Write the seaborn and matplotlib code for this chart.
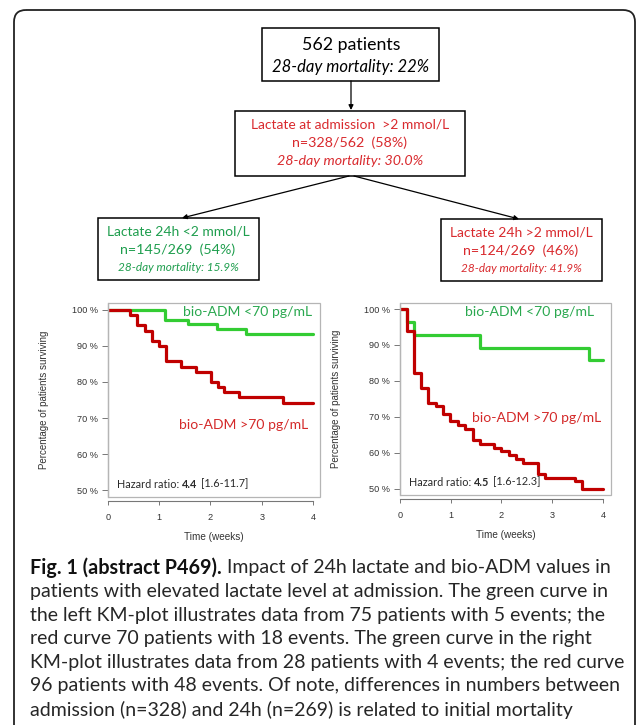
import matplotlib
matplotlib.use("Agg")
import matplotlib.pyplot as plt
from matplotlib.patches import Rectangle, FancyBboxPatch
import seaborn as sns

# Kaplan-Meier curves: time (weeks), survival (%)
left_green_t = [0, 1.12, 1.56, 2.13, 2.70, 4.0]
left_green_s = [100, 97.33, 96.0, 94.67, 93.33, 93.33]
left_red_t = [0, 0.42, 0.56, 0.72, 0.86, 0.99, 1.14, 1.43, 1.71, 2.01, 2.14, 2.27, 2.56, 3.42, 4.0]
left_red_s = [100, 98.57, 95.71, 94.29, 91.43, 90.0, 85.71, 84.29, 82.86, 80.0, 78.57, 77.14, 75.71,
              74.29, 74.29]

right_green_t = [0, 0.13, 0.28, 1.57, 3.72, 4.0]
right_green_s = [100, 96.43, 92.86, 89.29, 85.71, 85.71]
right_red_t = [0, 0.13, 0.28, 0.42, 0.56, 0.71, 0.85, 0.98, 1.15, 1.29, 1.43, 1.57, 1.85, 2.0, 2.14,
               2.28, 2.42, 2.72, 2.85, 3.46, 3.58, 4.0]
right_red_s = [100, 93.75, 82.29, 78.13, 73.96, 72.92, 70.83, 68.75, 67.71, 66.67, 63.54, 62.5, 61.46,
               60.42, 59.38, 58.33, 57.29, 54.17, 53.13, 52.08, 50.0, 50.0]

y_ticks = [50, 60, 70, 80, 90, 100]
y_tick_labels = [f"{v} %" for v in y_ticks]
x_ticks = [0, 1, 2, 3, 4]

left_hr = ("4.4", "[1.6-11.7]")
right_hr = ("4.5", "[1.6-12.3]")

caption_bold = "Fig. 1 (abstract P469)."
caption_lines = [
    " Impact of 24h lactate and bio-ADM values in",
    "patients with elevated lactate level at admission. The green curve in",
    "the left KM-plot illustrates data from 75 patients with 5 events; the",
    "red curve 70 patients with 18 events. The green curve in the right",
    "KM-plot illustrates data from 28 patients with 4 events; the red curve",
    "96 patients with 48 events. Of note, differences in numbers between",
    "admission (n=328) and 24h (n=269) is related to initial mortality",
]

FLOW_RED = "#d92a2e"
FLOW_GREEN = "#1f9e4e"
LINE_GREEN = "#33cc33"
LINE_RED = "#c00000"
TXT_GREEN = "#2aa84f"
TXT_RED = "#d42a2a"

W, H = 637, 725

sns.set_style("white")
plt.rcParams["font.family"] = ["Lato", "DejaVu Sans"]

fig = plt.figure(figsize=(W / 100, H / 100), dpi=100)
fig.patch.set_facecolor("white")

# background axes in pixel units, for the flowchart and the caption
bg = fig.add_axes([0, 0, 1, 1])
bg.set_xlim(0, W)
bg.set_ylim(H, 0)
bg.axis("off")

bg.add_patch(FancyBboxPatch((14, 10), 621, 760, boxstyle="round,pad=0,rounding_size=12",
                            fill=False, ec="#222222", lw=1.3, clip_on=False))


def flow_box(x0, y0, x1, y1):
    bg.add_patch(Rectangle((x0, y0), x1 - x0, y1 - y0, fill=False, ec="black", lw=1.1))


def arrow(x0, y0, x1, y1):
    bg.annotate("", xy=(x1, y1), xytext=(x0, y0),
                arrowprops=dict(arrowstyle="-|>", mutation_scale=7, lw=0.9, color="black",
                                shrinkA=0, shrinkB=0))


flow_box(262, 28, 439, 81)
bg.text(351, 45, "562 patients", ha="center", va="center", fontsize=12.8, color="black")
bg.text(351, 67, "28-day mortality: 22%", ha="center", va="center", fontsize=12,
        style="italic", color="black")

arrow(351, 81, 351, 110)

flow_box(235, 111, 465, 176)
bg.text(350, 124, "Lactate at admission  >2 mmol/L", ha="center", va="center", fontsize=10,
        color=FLOW_RED)
bg.text(350, 143, "n=328/562  (58%)", ha="center", va="center", fontsize=10.3, color=FLOW_RED)
bg.text(350, 161, "28-day mortality: 30.0%", ha="center", va="center", fontsize=10.3,
        style="italic", color=FLOW_RED)

arrow(349, 176, 182, 218)
arrow(354, 176, 519, 219)

flow_box(98, 218, 259, 280)
bg.text(178, 231, "Lactate 24h <2 mmol/L", ha="center", va="center", fontsize=10, color=FLOW_GREEN)
bg.text(178, 250, "n=145/269  (54%)", ha="center", va="center", fontsize=10.3, color=FLOW_GREEN)
bg.text(178, 267, "28-day mortality: 15.9%", ha="center", va="center", fontsize=8.5,
        style="italic", color=FLOW_GREEN)

flow_box(441, 219, 602, 281)
bg.text(521, 232, "Lactate 24h >2 mmol/L", ha="center", va="center", fontsize=10, color=FLOW_RED)
bg.text(521, 251, "n=124/269  (46%)", ha="center", va="center", fontsize=10.3, color=FLOW_RED)
bg.text(521, 268, "28-day mortality: 41.9%", ha="center", va="center", fontsize=8.5,
        style="italic", color=FLOW_RED)


def km_panel(px, green_t, green_s, red_t, red_s, xlim, ylim, hr, green_lbl_xy, red_lbl_xy):
    x0, y0, x1, y1 = px
    ax = fig.add_axes([x0 / W, 1 - y1 / H, (x1 - x0) / W, (y1 - y0) / H])
    ax.set_facecolor("white")
    sns.lineplot(x=green_t, y=green_s, drawstyle="steps-post", color=LINE_GREEN, lw=2.3,
                 estimator=None, sort=False, ax=ax)
    sns.lineplot(x=red_t, y=red_s, drawstyle="steps-post", color=LINE_RED, lw=2.3,
                 estimator=None, sort=False, ax=ax)
    ax.set_xlim(*xlim)
    ax.set_ylim(*ylim)

    # light box round the plot region, R-style x axis drawn a little below it
    ax.add_patch(Rectangle((0, 0), 1, 1, transform=ax.transAxes, fill=False, ec="#b5b5b5",
                           lw=0.9, clip_on=False, zorder=5))
    for side in ["top", "right"]:
        ax.spines[side].set_visible(False)
    ax.spines["left"].set_color("#b5b5b5")
    ax.spines["left"].set_linewidth(0.9)
    ax.spines["bottom"].set_position(("outward", 3.2))
    ax.spines["bottom"].set_bounds(0, 4)
    ax.spines["bottom"].set_color("#777777")
    ax.spines["bottom"].set_linewidth(0.8)

    ax.set_xticks(x_ticks)
    ax.set_yticks(y_ticks)
    ax.set_yticklabels(y_tick_labels)
    ax.tick_params(axis="both", labelsize=6.6, labelcolor="#333333", labelfontfamily="Liberation Sans",
                   length=3, width=0.7, color="#777777", direction="out")
    ax.tick_params(axis="x", pad=5, bottom=True)
    ax.tick_params(axis="y", pad=3, left=True, length=4)

    ax.set_xlabel("Time (weeks)", fontsize=7.2, color="#333333", family="Liberation Sans")
    ax.set_ylabel("Percentage of patients surviving", fontsize=7, color="#333333",
                  family="Liberation Sans")
    ax.xaxis.label.set_va("center")
    ax.yaxis.label.set_va("center")
    ax.xaxis.set_label_coords(0.5, -40 / (y1 - y0))
    ax.yaxis.set_label_coords(-64 / (x1 - x0), 0.5)

    ax.text(green_lbl_xy[0], green_lbl_xy[1], "bio-ADM <70 pg/mL", fontsize=10.1,
            color=TXT_GREEN, va="center", transform=ax.transAxes)
    ax.text(red_lbl_xy[0], red_lbl_xy[1], "bio-ADM >70 pg/mL", fontsize=10.1,
            color=TXT_RED, va="center", transform=ax.transAxes)

    t = ax.text(9 / (x1 - x0), 13 / (y1 - y0), "Hazard ratio:", fontsize=7.8, color="#2a2a2a",
                va="center", transform=ax.transAxes)
    t2 = ax.annotate(hr[0], xy=(1, 0.5), xycoords=t, xytext=(2.2, 0), textcoords="offset points",
                     fontsize=7.8, fontweight="bold", color="#2a2a2a", va="center")
    ax.annotate(hr[1], xy=(1, 0.5), xycoords=t2, xytext=(2.2, 0), textcoords="offset points",
                fontsize=7.8, color="#2a2a2a", va="center")
    return ax


km_panel((108, 303, 320, 497), left_green_t, left_green_s, left_red_t, left_red_s,
         (0, 4.137), (48.06, 101.94), left_hr, (75 / 212, 0.955), (71 / 212, 0.37))
km_panel((400, 303, 611, 495), right_green_t, right_green_s, right_red_t, right_red_s,
         (0, 4.16), (48.3, 101.67), right_hr, (65 / 211, 0.955), (72 / 211, 0.40))

# caption with a bold lead-in
cap_y0, cap_dy = 568, 23.6
lead = bg.text(30, cap_y0, caption_bold, fontsize=14.2, fontweight="bold", color="#111111",
               va="center")
bb = lead.get_window_extent(fig.canvas.get_renderer())
for i, line in enumerate(caption_lines):
    x = bb.x1 if i == 0 else 30
    bg.text(x, cap_y0 + i * cap_dy, line, fontsize=14, color="#262626", va="center")

fig.savefig("out.png", dpi=100, facecolor="white")
